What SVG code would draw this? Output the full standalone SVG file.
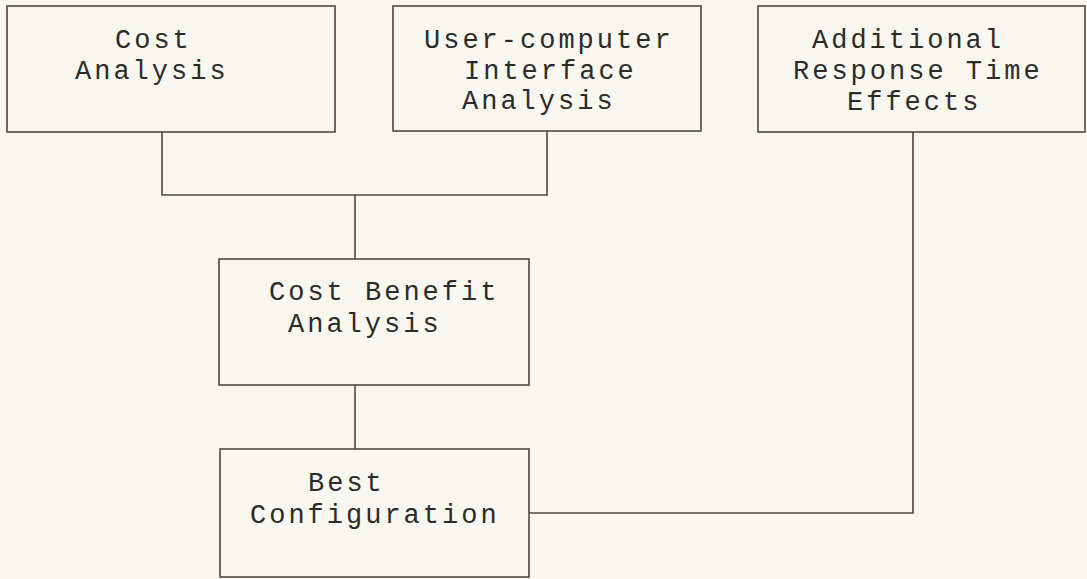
<svg xmlns="http://www.w3.org/2000/svg" width="1087" height="579" viewBox="0 0 1087 579">
<style>
.box{fill:none;stroke:#4d4845;stroke-width:1.6}
.ln{fill:none;stroke:#4d4845;stroke-width:1.6}
text{font-family:"Liberation Mono","Courier New",monospace;font-size:27px;letter-spacing:3px;fill:#2e2a28}
</style>
<rect x="0" y="0" width="1087" height="579" fill="#f9f8f0"/>
<g id="connectors">
<polyline class="ln" points="162,132 162,195 547,195 547,131"/>
<line class="ln" x1="355" y1="195" x2="355" y2="259"/>
<line class="ln" x1="355" y1="385" x2="355" y2="449"/>
<polyline class="ln" points="529,513 913,513 913,132"/>
</g>
<g id="cost-analysis">
<rect class="box" x="7" y="6" width="328" height="126"/>
<text x="115" y="48">Cost</text>
<text x="75" y="79">Analysis</text>
</g>
<g id="uci-analysis">
<rect class="box" x="393" y="6" width="308" height="125"/>
<text x="424" y="48">User-computer</text>
<text x="464" y="79">Interface</text>
<text x="462" y="109">Analysis</text>
</g>
<g id="response-time">
<rect class="box" x="758" y="6" width="327" height="126"/>
<text x="812" y="48">Additional</text>
<text x="793" y="79">Response Time</text>
<text x="847" y="110">Effects</text>
</g>
<g id="cost-benefit">
<rect class="box" x="219" y="259" width="310" height="126"/>
<text x="269" y="300">Cost Benefit</text>
<text x="288" y="332">Analysis</text>
</g>
<g id="best-config">
<rect class="box" x="220" y="449" width="309" height="128"/>
<text x="308" y="491">Best</text>
<text x="250" y="523">Configuration</text>
</g>
</svg>
